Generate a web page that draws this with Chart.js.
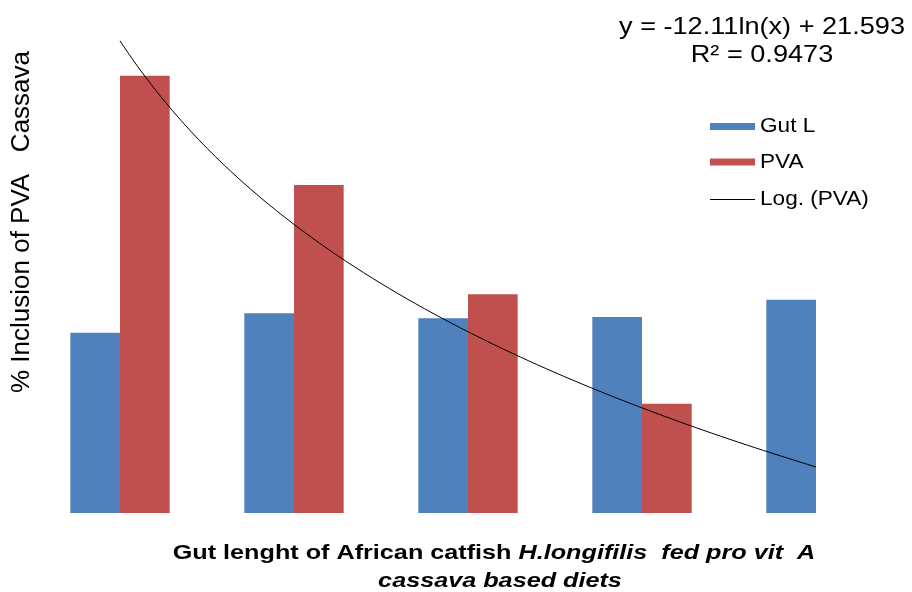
<!DOCTYPE html>
<html lang="en">

<head>
    <meta charset="UTF-8">
    <title>Gut length vs PVA</title>
    <script src="https://cdn.jsdelivr.net/npm/chart.js@4.4.1/dist/chart.umd.min.js"></script>
    <style>
        body { margin: 0; background: #fff; }
    </style>
</head>

<body>
    <canvas id="myChart" width="912" height="592"></canvas>
    <script>
        // data
        var categories = ['1', '2', '3', '4', '5'];
        var gutL = [8.24, 9.14, 8.91, 8.96, 9.75];
        var pva = [20, 15, 10, 5, 0];
        var seriesNames = ['Gut L', 'PVA', 'Log. (PVA)'];
        var eqText = ['y = -12.11ln(x) + 21.593', 'R\u00B2 = 0.9473'];
        var yTitle = '% Inclusion of PVA   Cassava';
        var xTitle1 = ['Gut lenght of African catfish ', 'H.longifilis  fed pro vit  A'];
        var xTitle2 = 'cassava based diets';

        // log trendline fitted on PVA the same way excel does it
        var n = pva.length, sl = 0, sy = 0;
        for (let i = 0; i < n; i++) { sl += Math.log(i + 1); sy += pva[i]; }
        var ml = sl / n, my = sy / n, sxy = 0, sxx = 0;
        for (let i = 0; i < n; i++) {
            sxy += (Math.log(i + 1) - ml) * (pva[i] - my);
            sxx += (Math.log(i + 1) - ml) ** 2;
        }
        var slope = sxy / sxx;
        var icpt = my - slope * ml;
        // x here is the category index (x = 1 -> index 0), so it sits on the same axis as the bars
        var trend = [];
        for (let k = 0; k <= 80; k++) {
            let x = 1 + k * 0.05;
            trend.push({ x: x - 1, y: slope * Math.log(x) + icpt });
        }

        var FONT = '"Liberation Sans", Arial, sans-serif';

        function wideText(ctx, txt, x, y, sx) {
            ctx.save();
            ctx.translate(x, y);
            ctx.scale(sx, 1);
            ctx.fillText(txt, 0, 0);
            ctx.restore();
        }

        var extras = {
            id: 'extras',
            afterDraw: function (chart) {
                var ctx = chart.ctx;
                var ds = chart.data.datasets;
                ctx.save();
                ctx.fillStyle = '#000';

                // equation
                ctx.font = '24px ' + FONT;
                ctx.textAlign = 'center';
                ctx.textBaseline = 'middle';
                wideText(ctx, eqText[0], 762, 27, 1.13);
                wideText(ctx, eqText[1], 762, 55, 1.13);

                // legend
                var rows = [126.5, 162, 199];
                ctx.font = '20px ' + FONT;
                ctx.textAlign = 'left';
                for (let i = 0; i < ds.length; i++) {
                    if (ds[i].type == 'line') {
                        ctx.strokeStyle = ds[i].borderColor;
                        ctx.lineWidth = 1;
                        ctx.beginPath();
                        ctx.moveTo(710, rows[i] + 0.5);
                        ctx.lineTo(755, rows[i] + 0.5);
                        ctx.stroke();
                    } else {
                        ctx.fillStyle = ds[i].backgroundColor;
                        ctx.fillRect(710, rows[i] - 3.5, 45, 7);
                    }
                    ctx.fillStyle = '#000';
                    wideText(ctx, ds[i].label, 760, rows[i], 1.13);
                }

                // y title
                ctx.save();
                ctx.translate(22, 222);
                ctx.rotate(-Math.PI / 2);
                ctx.font = '26px ' + FONT;
                ctx.textAlign = 'center';
                ctx.fillText(yTitle, 0, 0);
                ctx.restore();

                // x title, mixed upright / italic
                var sx = 1.2;
                var f1 = 'bold 21px ' + FONT, f2 = 'italic bold 21px ' + FONT;
                ctx.font = f1;
                var w1 = ctx.measureText(xTitle1[0]).width;
                ctx.font = f2;
                var w2 = ctx.measureText(xTitle1[1]).width;
                var x0 = 494 - (w1 + w2) * sx / 2;
                ctx.textAlign = 'left';
                ctx.font = f1;
                wideText(ctx, xTitle1[0], x0, 553, sx);
                ctx.font = f2;
                wideText(ctx, xTitle1[1], x0 + w1 * sx, 553, sx);
                ctx.textAlign = 'center';
                wideText(ctx, xTitle2, 500, 581, sx);

                ctx.restore();
            }
        };

        var ctx = document.getElementById('myChart');
        var myChart = new Chart(ctx, {
            type: 'bar',
            data: {
                labels: categories,
                datasets: [{
                        label: seriesNames[0],
                        data: gutL,
                        backgroundColor: '#4F81BD',
                        order: 1
                    },
                    {
                        label: seriesNames[1],
                        data: pva,
                        backgroundColor: '#C0504D',
                        order: 1
                    },
                    {
                        label: seriesNames[2],
                        type: 'line',
                        data: trend,
                        parsing: false,
                        borderColor: '#000000',
                        borderWidth: 1,
                        pointRadius: 0,
                        fill: false,
                        order: 0
                    }
                ]
            },
            options: {
                responsive: false,
                animation: false,
                layout: { padding: { left: 33, right: 9, top: 32, bottom: 79 } },
                datasets: {
                    bar: { categoryPercentage: 0.571, barPercentage: 1 }
                },
                scales: {
                    x: { display: false, offset: true },
                    y: { display: false, min: 0, max: 22 }
                },
                plugins: {
                    legend: { display: false },
                    tooltip: { enabled: false }
                }
            },
            plugins: [extras]
        });
    </script>
</body>

</html>
